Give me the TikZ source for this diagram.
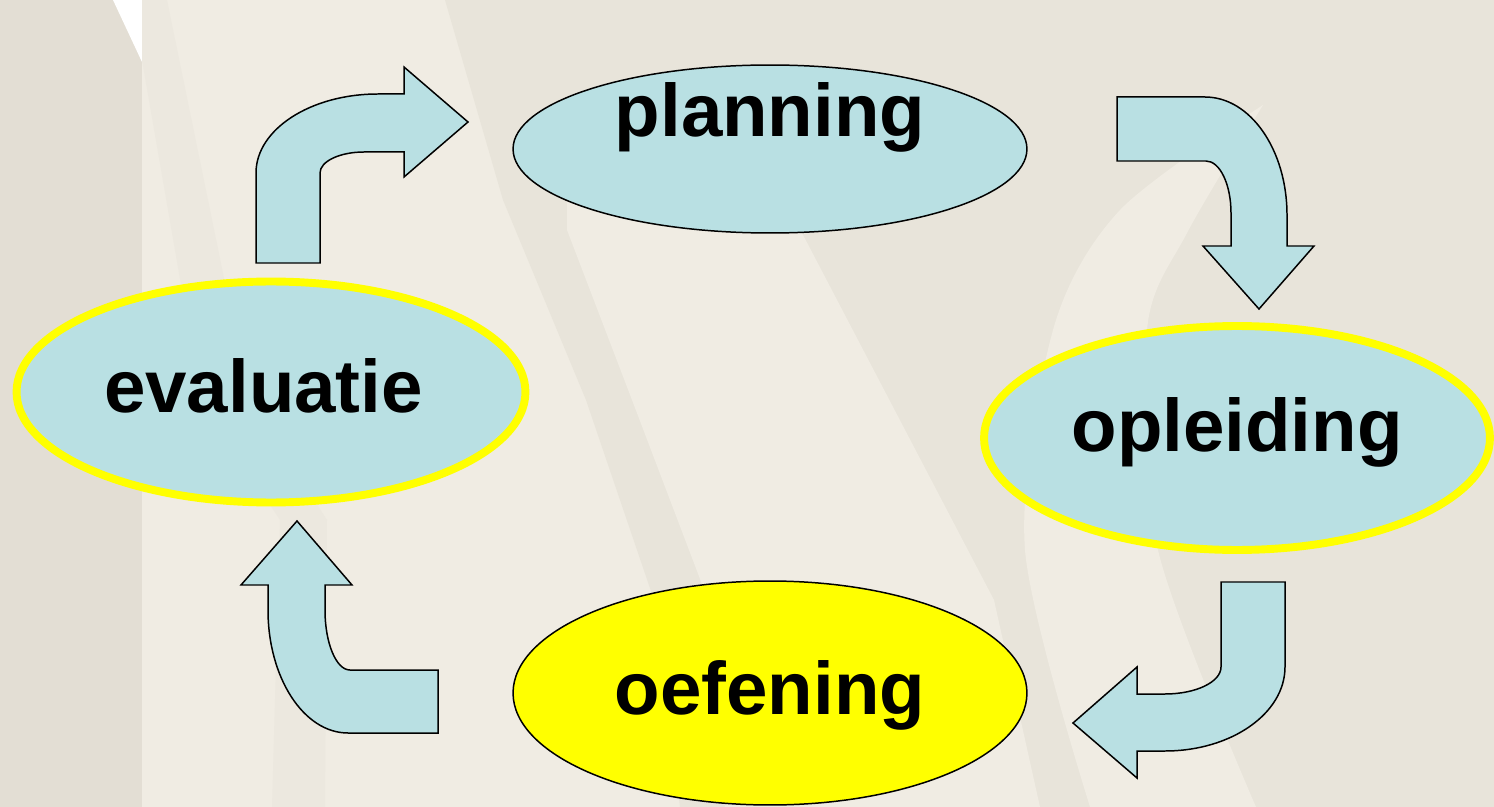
\documentclass[tikz,border=0pt]{standalone}
\usepackage{fontspec}
\setmainfont{Liberation Sans}
\usepackage{tikz}
\usetikzlibrary{shapes.geometric}
\usetikzlibrary{calc}
\definecolor{bglight}{RGB}{240,236,227}
\definecolor{bgdark}{RGB}{232,228,218}
\definecolor{bgfaint}{RGB}{236,232,223}
\definecolor{bgleft}{RGB}{227,222,212}
\definecolor{paleblue}{RGB}{185,224,227}
\definecolor{hotyellow}{RGB}{255,255,0}
\newcommand{\bubblefont}{\bfseries\fontsize{42.4pt}{48pt}\selectfont}
\tikzstyle{bubble}=[ellipse,draw=black,fill=paleblue,line width=0.85pt,inner sep=0pt,text height=0pt,text depth=0pt,font=\bubblefont]
\tikzstyle{hotbubble}=[bubble,draw=hotyellow,line width=4.5pt]
\tikzstyle{bentarrow} = [draw=black,fill=paleblue,line width=0.85pt,line join=miter]
\tikzstyle{band} = [draw=none]

\begin{document}
\begin{tikzpicture}[x=0.02cm,y=-0.02cm]
    % background with the soft stripes
    \useasboundingbox (0,0) rectangle (1494,807);
    \fill[bglight] (0,0) rectangle (1494,807);
    \fill[bgleft] (0,0) rectangle (142,807);
    \fill[white] (113,0) -- (142,0) -- (142,62) -- cycle;
    \path[band,fill=bgfaint] (142,0) -- (167,0) -- (249,400) -- (327,520) -- (325,807) -- (272,807) -- (280,520) -- (201,400) -- (142,60) -- cycle;
    \path[band,fill=bgdark] (445,0) -- (1494,0) -- (1494,807) -- (680,807) -- (654,600) -- (586,400) -- (503,200) -- cycle;
    \path[band,fill=bglight] (567,150) -- (790,150) -- (802,233) -- (994,600) -- (1040,807) -- (725,807) -- (708,600) -- (632,400) -- (567,230) -- cycle;
    \path[band,fill=bglight] plot[smooth] coordinates {(1263,105) (1187,233) (1147,330) (1158,550) (1256,807)}
        -- plot[smooth] coordinates {(1090,807) (1025,550) (1053,330) (1120,210) (1263,105)} -- cycle;

    % the four steps of the cycle
    \node[bubble, minimum width=10.28cm, minimum height=3.36cm] (planning) at (770,149) {\raisebox{0.24cm}{planning}};
    \node[hotbubble, minimum width=10.18cm, minimum height=4.42cm] (evaluatie) at (271,392) {\raisebox{-0.42cm}{\kern-0.3cm evaluatie}};
    \node[hotbubble, minimum width=10.12cm, minimum height=4.48cm] (opleiding) at (1237,438) {\raisebox{-0.28cm}{opleiding}};
    \node[bubble, fill=hotyellow, minimum width=10.28cm, minimum height=4.48cm] (oefening) at (770,693) {\raisebox{-0.44cm}{oefening}};

    % bent arrows between the steps
    % evaluatie -> planning
    \draw[bentarrow] (256,263) -- (256,173) arc[start angle=180,end angle=270,x radius=122,y radius=79]
        -- (404,94) -- (404,67) -- (468,122) -- (404,177) -- (404,152) -- (364,152)
        arc[start angle=270,end angle=180,x radius=44,y radius=21] -- (320,263) -- cycle;
    % planning -> opleiding
    \draw[bentarrow] (1117,97) -- (1205,97) arc[start angle=270,end angle=360,x radius=82,y radius=118]
        -- (1287,246) -- (1314,246) -- (1259,309) -- (1203,246) -- (1231,246) -- (1231,213)
        arc[start angle=0,end angle=-90,x radius=25,y radius=52] -- (1117,161) -- cycle;
    % opleiding -> oefening
    \draw[bentarrow] (1221,582) -- (1285,582) -- (1285,667) arc[start angle=0,end angle=90,x radius=120,y radius=84]
        -- (1137,751) -- (1137,778) -- (1073,723) -- (1137,667) -- (1137,694) -- (1165,694)
        arc[start angle=90,end angle=0,x radius=56,y radius=27] -- cycle;
    % oefening -> evaluatie
    \draw[bentarrow] (438,670) -- (350,670) arc[start angle=90,end angle=180,x radius=25,y radius=60]
        -- (325,585) -- (352,585) -- (297,521) -- (241,585) -- (268,585) -- (268,610)
        arc[start angle=180,end angle=90,x radius=80,y radius=123] -- (438,733) -- cycle;
\end{tikzpicture}
\end{document}
